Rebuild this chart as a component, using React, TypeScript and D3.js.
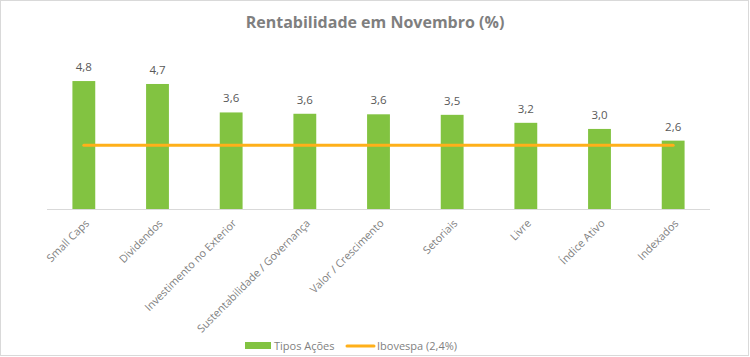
import React from "react";
import * as d3 from "d3";

const categories = [
  "Small Caps",
  "Dividendos",
  "Investimento no Exterior",
  "Sustentabilidade / Governança",
  "Valor / Crescimento",
  "Setoriais",
  "Livre",
  "Índice Ativo",
  "Indexados",
];
const tiposAcoes = [4.81, 4.7, 3.63, 3.58, 3.56, 3.54, 3.24, 3.01, 2.57];
const ibovespa = 2.4;
const yDomain = [0, 6];
const title = "Rentabilidade em Novembro (%)";
const seriesNames = ["Tipos Ações", "Ibovespa (2,4%)"];

const W = 750;
const H = 357;
const FONT = "'Open Sans', sans-serif";
const GREEN = "#82C341";
const ORANGE = "#FFB01A";

export default function App() {
  const x = d3.scaleBand<string>().domain(categories).range([47, 710]).paddingInner(0.69).paddingOuter(0.345);
  const y = d3.scaleLinear().domain(yDomain).range([209, 49.4]);
  const cx = (c: string) => (x(c) as number) + x.bandwidth() / 2;
  const fmt = (v: number) => v.toFixed(1).replace(".", ",");
  const line = d3
    .line<number>()
    .x((_, i) => cx(categories[i]))
    .y((d) => y(d));
  const lineData = categories.map(() => ibovespa);

  return (
    <svg
      width={W}
      height={H}
      style={{ position: "absolute", left: 0, top: 0, background: "#fff" }}
      fontFamily={FONT}
    >
      <rect x={0.5} y={0.5} width={748} height={355} fill="#fff" stroke="#d9d9d9" />
      <text x={375} y={28} textAnchor="middle" fontSize={16} fontWeight="bold" fill="#7f7f7f">
        {title}
      </text>
      <line x1={47} x2={710} y1={y(0) + 0.5} y2={y(0) + 0.5} stroke="#d9d9d9" />
      {categories.map((c, i) => (
        <g key={c}>
          <rect x={x(c)} y={y(tiposAcoes[i])} width={x.bandwidth()} height={y(0) - y(tiposAcoes[i])} fill={GREEN} />
          <text x={cx(c)} y={y(tiposAcoes[i]) - 10} textAnchor="middle" fontSize={11.5} fill="#595959">
            {fmt(tiposAcoes[i])}
          </text>
          <text
            transform={`translate(${cx(c) + 6},${y(0) + 15}) rotate(-45)`}
            textAnchor="end"
            fontSize={10.8}
            fill="#7f7f7f"
          >
            {c}
          </text>
        </g>
      ))}
      <path d={line(lineData) || ""} fill="none" stroke={ORANGE} strokeWidth={3} strokeLinecap="round" />
      <rect x={245} y={342} width={26} height={7} fill={GREEN} />
      <text x={274} y={349.5} fontSize={11} fill="#7f7f7f">
        {seriesNames[0]}
      </text>
      <line x1={347} x2={374} y1={346} y2={346} stroke={ORANGE} strokeWidth={3} strokeLinecap="round" />
      <text x={377} y={349.5} fontSize={11} fill="#7f7f7f">
        {seriesNames[1]}
      </text>
    </svg>
  );
}
